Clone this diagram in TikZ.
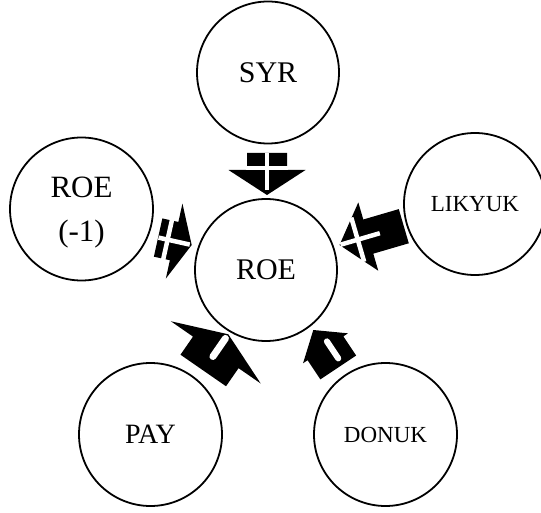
\documentclass[tikz,border=0pt]{standalone}
\usepackage{fontspec}
\setmainfont{Liberation Serif}
\usetikzlibrary{calc,backgrounds}

% block arrow: #1 target node, #2 tip offset from its centre, #3 rotation,
% #4 head length, #5 head half width, #6 shaft length, #7 shaft half width, #8 sign
\newcommand\fbarrow[8]{%
  \begin{scope}[shift={($(#1)+(#2)$)},rotate=#3]
    \fill (0,0) -- (-#4,-#5) -- (-#4,-#7) -- ({-#4-#6},-#7) -- ({-#4-#6},#7)
      -- (-#4,#7) -- (-#4,#5) -- cycle;
    #8
  \end{scope}}
% white plus: axis bar from #1 to #2, cross bar at #3 with half length #4, thickness #5
\newcommand\fbplus[5]{%
  \fill[white] (#1,{-#5/2}) rectangle (#2,{#5/2});
  \fill[white] ({#3-#5/2},-#4) rectangle ({#3+#5/2},#4);}
% white minus: bar from #1 to #2 at lateral offset #3, thickness #4
\newcommand\fbminus[4]{%
  \draw[white,line width=#4pt,line cap=round] (#1,#3) -- (#2,#3);}

\begin{document}
\begin{tikzpicture}[x=1pt,y=-1pt,
  var/.style={circle,draw,line width=1.8pt,fill=white,inner sep=0pt},
  big/.style={font=\fontsize{30}{36}\selectfont},
  mid/.style={font=\fontsize{28}{34}\selectfont},
  small/.style={font=\fontsize{23}{28}\selectfont}]
\useasboundingbox (0,0) rectangle (541,513);

\node[var,big,minimum size=142pt] (syr) at (268,72.5) {SYR};
\node[var,big,minimum size=142pt] (roe) at (266,270) {ROE};
\node[var,minimum size=143pt] (lag) at (81.5,209) {};
\node[big,align=center,font=\fontsize{31}{44}\selectfont] (lagtext) at ($(lag)+(0,3.5)$) {ROE\\(-1)};
\node[var,small,minimum size=142pt] (likyuk) at (475,204) {LIKYUK};
\node[var,mid,minimum size=143pt] (pay) at (150.5,434.5) {PAY};
\node[var,small,minimum size=143pt] (donuk) at (385.5,434.5) {DONUK};

\begin{scope}[on background layer]
  \fbarrow{roe}{1,-75}{-90}{25}{38.5}{17}{20}{\fbplus{-42}{-5}{-27}{21}{4.5}}
  \fbarrow{roe}{-74.3,-25}{-12.5}{18}{38.4}{16.4}{19.6}{\fbplus{-34}{-2}{-24.7}{22}{4.5}}
  \fbarrow{roe}{73.5,-25}{-163.7}{30}{35.6}{37}{17.8}{\fbplus{-42}{-1}{-19}{23}{4.5}}
  \fbarrow{roe}{-37.7,64.3}{55.3}{22}{54.7}{22}{27.7}{\fbminus{-27}{-5}{0}{7}}
  \fbarrow{roe}{47.3,60}{123.7}{22}{27}{23}{21.5}{\fbminus{-17}{-37.5}{5}{6}}
\end{scope}
\end{tikzpicture}
\end{document}
